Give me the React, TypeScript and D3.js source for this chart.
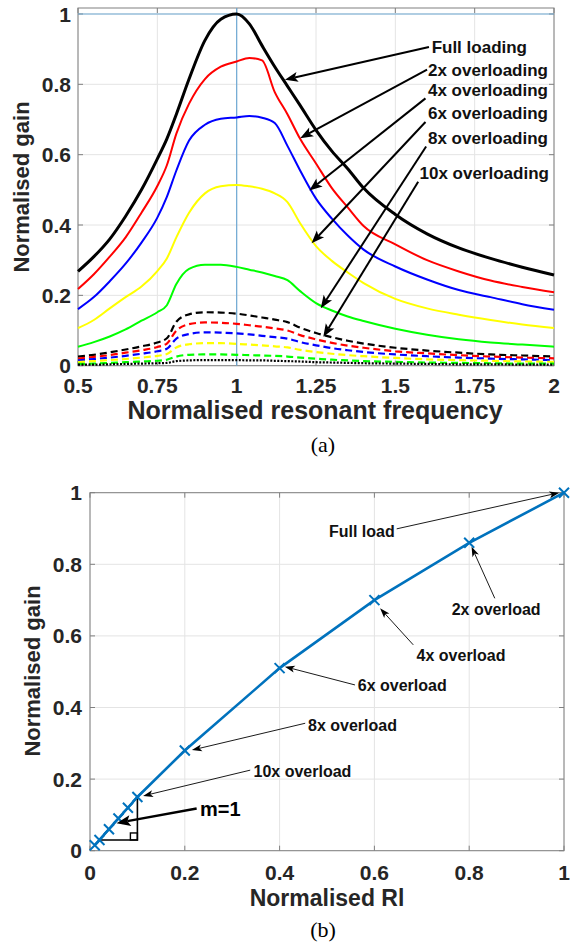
import React, { useEffect, useRef } from "react";
import * as d3 from "d3";

// ---- chart (a): gain vs normalised resonant frequency ----
const freq = [0.5, 0.55, 0.6, 0.65, 0.7, 0.75, 0.78, 0.81, 0.85, 0.9, 0.95, 1.0, 1.04, 1.08, 1.12, 1.16, 1.2, 1.25, 1.3, 1.35, 1.4, 1.5, 1.6, 1.7, 1.8, 1.9, 2.0];

const fullLoading = [0.268, 0.31, 0.36, 0.425, 0.5, 0.588, 0.645, 0.715, 0.815, 0.925, 0.985, 1.0, 0.972, 0.91, 0.85, 0.795, 0.74, 0.67, 0.61, 0.56, 0.505, 0.43, 0.375, 0.335, 0.305, 0.28, 0.258];
const over2 = [0.218, 0.26, 0.31, 0.365, 0.435, 0.511, 0.57, 0.66, 0.745, 0.815, 0.85, 0.865, 0.875, 0.868, 0.778, 0.715, 0.645, 0.575, 0.505, 0.45, 0.397, 0.345, 0.3, 0.268, 0.242, 0.224, 0.209];
const over4 = [0.161, 0.195, 0.24, 0.29, 0.35, 0.421, 0.48, 0.555, 0.64, 0.685, 0.702, 0.706, 0.71, 0.705, 0.69, 0.625, 0.555, 0.475, 0.418, 0.37, 0.33, 0.282, 0.245, 0.215, 0.195, 0.175, 0.159];
const over6 = [0.107, 0.13, 0.163, 0.195, 0.225, 0.269, 0.305, 0.365, 0.435, 0.49, 0.51, 0.514, 0.51, 0.503, 0.49, 0.465, 0.405, 0.34, 0.298, 0.265, 0.235, 0.19, 0.163, 0.145, 0.13, 0.117, 0.107];
const over8 = [0.054, 0.067, 0.083, 0.103, 0.128, 0.152, 0.172, 0.232, 0.275, 0.287, 0.287, 0.281, 0.273, 0.265, 0.255, 0.243, 0.212, 0.178, 0.157, 0.14, 0.127, 0.105, 0.088, 0.075, 0.066, 0.06, 0.054];
const over10 = [0.026, 0.031, 0.038, 0.046, 0.055, 0.066, 0.078, 0.125, 0.146, 0.152, 0.151, 0.148, 0.143, 0.137, 0.131, 0.124, 0.108, 0.093, 0.081, 0.071, 0.063, 0.051, 0.043, 0.037, 0.032, 0.029, 0.026];
const over12 = [0.02, 0.025, 0.03, 0.037, 0.044, 0.053, 0.063, 0.1, 0.118, 0.123, 0.122, 0.119, 0.115, 0.111, 0.106, 0.1, 0.087, 0.075, 0.065, 0.057, 0.051, 0.041, 0.035, 0.03, 0.026, 0.023, 0.021];
const over14 = [0.015, 0.019, 0.023, 0.028, 0.034, 0.041, 0.048, 0.077, 0.09, 0.095, 0.094, 0.092, 0.089, 0.085, 0.081, 0.077, 0.067, 0.058, 0.05, 0.044, 0.039, 0.032, 0.027, 0.023, 0.02, 0.018, 0.016];
const over16 = [0.01, 0.013, 0.016, 0.019, 0.023, 0.028, 0.033, 0.052, 0.061, 0.064, 0.064, 0.062, 0.06, 0.058, 0.055, 0.052, 0.045, 0.039, 0.034, 0.03, 0.027, 0.022, 0.018, 0.016, 0.014, 0.012, 0.011];
const over18 = [0.005, 0.006, 0.008, 0.01, 0.012, 0.014, 0.017, 0.026, 0.031, 0.032, 0.032, 0.031, 0.03, 0.029, 0.028, 0.026, 0.023, 0.02, 0.017, 0.015, 0.013, 0.011, 0.009, 0.008, 0.007, 0.006, 0.006];
const over20 = [0.003, 0.003, 0.004, 0.005, 0.006, 0.007, 0.008, 0.013, 0.015, 0.016, 0.016, 0.016, 0.015, 0.015, 0.014, 0.013, 0.012, 0.01, 0.009, 0.008, 0.007, 0.006, 0.005, 0.004, 0.004, 0.003, 0.003];

const freqTicks = [0.5, 0.75, 1, 1.25, 1.5, 1.75, 2];
const gainTicks = [0, 0.2, 0.4, 0.6, 0.8, 1];

// label, text anchor (end x, baseline y), arrow start, arrow tip -- data coords
const loadLabels = ["Full loading", "2x overloading", "4x overloading", "6x overloading", "8x overloading", "10x overloading"];
const loadTextPos = [[1.915, 0.89], [1.981, 0.824], [1.981, 0.767], [1.981, 0.701], [1.981, 0.63], [1.984, 0.53]];
const loadArrowFrom = [[1.606, 0.906], [1.6, 0.842], [1.595, 0.76], [1.595, 0.693], [1.597, 0.623], [1.572, 0.523]];
const loadArrowTo = [[1.152, 0.813], [1.2, 0.647], [1.229, 0.498], [1.236, 0.348], [1.265, 0.163], [1.273, 0.082]];

// ---- chart (b): gain vs normalised Rl ----
const rl = [0.01, 0.02, 0.04, 0.06, 0.08, 0.1, 0.2, 0.4, 0.6, 0.8, 1];
const rlGain = [0.015, 0.03, 0.06, 0.09, 0.12, 0.15, 0.28, 0.51, 0.7, 0.86, 1.0];
const rlTicks = [0, 0.2, 0.4, 0.6, 0.8, 1];

const overLabels = ["Full load", "2x overload", "4x overload", "6x overload", "8x overload", "10x overload"];
const overTextPos = [[0.504, 0.876], [0.763, 0.658], [0.689, 0.53], [0.565, 0.446], [0.46, 0.334], [0.345, 0.207]];
const overArrowFrom = [[0.647, 0.899], [0.854, 0.705], [0.682, 0.575], [0.559, 0.463], [0.454, 0.356], [0.338, 0.225]];
const overArrowTo = [[0.99, 1.0], [0.805, 0.849], [0.612, 0.677], [0.411, 0.514], [0.215, 0.281], [0.112, 0.153]];

const slopeTri = [[0.02, 0.03], [0.1, 0.03], [0.1, 0.15]];

const FONT = "'Liberation Sans', Arial, Helvetica, sans-serif";
const TXT = "#262626";

const arrow = (g, sx, sy, tx, ty, w, len, half, notch) => {
  const dx = tx - sx;
  const dy = ty - sy;
  const L = Math.hypot(dx, dy);
  const ux = dx / L;
  const uy = dy / L;
  const nx = -uy;
  const ny = ux;
  const bx = tx - (len - notch) * ux;
  const by = ty - (len - notch) * uy;
  g.append("line")
    .attr("x1", sx).attr("y1", sy).attr("x2", bx).attr("y2", by)
    .attr("stroke", "#000").attr("stroke-width", w);
  g.append("path")
    .attr("d", `M${tx},${ty}L${tx - len * ux + half * nx},${ty - len * uy + half * ny}L${bx},${by}L${tx - len * ux - half * nx},${ty - len * uy - half * ny}Z`)
    .attr("fill", "#000");
};

const axesBox = (g, x, y, xTicks, yTicks, xLabelY, yLabelX) => {
  const [xa, xb] = x.range();
  const [ya, yb] = y.range();
  g.append("g").selectAll("line").data(xTicks).join("line")
    .attr("x1", (d) => x(d)).attr("x2", (d) => x(d)).attr("y1", ya).attr("y2", yb)
    .attr("stroke", "#e4e4e4").attr("stroke-width", 1);
  g.append("g").selectAll("line").data(yTicks).join("line")
    .attr("x1", xa).attr("x2", xb).attr("y1", (d) => y(d)).attr("y2", (d) => y(d))
    .attr("stroke", "#e4e4e4").attr("stroke-width", 1);
  const tk = g.append("g").attr("stroke", "#808080").attr("stroke-width", 1);
  xTicks.forEach((d) => {
    tk.append("line").attr("x1", x(d)).attr("x2", x(d)).attr("y1", ya).attr("y2", ya - 5);
    tk.append("line").attr("x1", x(d)).attr("x2", x(d)).attr("y1", yb).attr("y2", yb + 5);
  });
  yTicks.forEach((d) => {
    tk.append("line").attr("x1", xa).attr("x2", xa + 5).attr("y1", y(d)).attr("y2", y(d));
    tk.append("line").attr("x1", xb).attr("x2", xb - 5).attr("y1", y(d)).attr("y2", y(d));
  });
  g.append("rect")
    .attr("x", xa).attr("y", yb).attr("width", xb - xa).attr("height", ya - yb)
    .attr("fill", "none").attr("stroke", "#808080").attr("stroke-width", 1);
  g.append("g").selectAll("text").data(xTicks).join("text")
    .attr("x", (d) => x(d)).attr("y", xLabelY)
    .attr("text-anchor", "middle")
    .attr("font-family", FONT).attr("font-weight", "bold").attr("font-size", 21).attr("fill", TXT)
    .text((d) => String(d));
  g.append("g").selectAll("text").data(yTicks).join("text")
    .attr("x", yLabelX).attr("y", (d) => y(d)).attr("dy", "0.36em")
    .attr("text-anchor", "end")
    .attr("font-family", FONT).attr("font-weight", "bold").attr("font-size", 21).attr("fill", TXT)
    .text((d) => String(d));
};

const App = () => {
  const ref = useRef(null);

  useEffect(() => {
    const svg = d3.select(ref.current);
    svg.selectAll("*").remove();

    // ===== (a) =====
    const xa = d3.scaleLinear().domain([0.5, 2]).range([78, 554]);
    const ya = d3.scaleLinear().domain([0, 1.017]).range([365.7, 8]);
    const ga = svg.append("g");
    axesBox(ga, xa, ya, freqTicks, gainTicks, 393, 71);

    // reference lines at 1
    ga.append("line").attr("x1", xa(1)).attr("x2", xa(1)).attr("y1", ya(0)).attr("y2", ya(1.017))
      .attr("stroke", "#6fa9d4").attr("stroke-width", 1.2);
    ga.append("line").attr("x1", xa(0.5)).attr("x2", xa(2)).attr("y1", ya(1)).attr("y2", ya(1))
      .attr("stroke", "#6fa9d4").attr("stroke-width", 1.2);

    const series = [
      { v: fullLoading, c: "#000000", w: 3, dash: null },
      { v: over2, c: "#ff0000", w: 2, dash: null },
      { v: over4, c: "#0000ff", w: 2, dash: null },
      { v: over6, c: "#ffff00", w: 2, dash: null },
      { v: over8, c: "#00ff00", w: 2, dash: null },
      { v: over10, c: "#000000", w: 2.2, dash: "7,4" },
      { v: over12, c: "#ff0000", w: 2.2, dash: "7,4" },
      { v: over14, c: "#0000ff", w: 2.2, dash: "7,4" },
      { v: over16, c: "#ffff00", w: 2.2, dash: "7,4" },
      { v: over18, c: "#00ff00", w: 2.2, dash: "7,4" },
      { v: over20, c: "#000000", w: 2.2, dash: "2,1.5" },
    ];
    const line = d3.line().x((d) => xa(d[0])).y((d) => ya(d[1])).curve(d3.curveMonotoneX);
    series.forEach((s) => {
      ga.append("path")
        .datum(freq.map((f, i) => [f, s.v[i]]))
        .attr("fill", "none")
        .attr("stroke", s.c)
        .attr("stroke-width", s.w)
        .attr("stroke-dasharray", s.dash)
        .attr("stroke-linejoin", "round")
        .attr("d", line);
    });

    loadLabels.forEach((t, i) => {
      arrow(ga, xa(loadArrowFrom[i][0]), ya(loadArrowFrom[i][1]), xa(loadArrowTo[i][0]), ya(loadArrowTo[i][1]), 2, 13, 5, 3);
      ga.append("text")
        .attr("x", xa(loadTextPos[i][0])).attr("y", ya(loadTextPos[i][1]))
        .attr("text-anchor", "end")
        .attr("font-family", FONT).attr("font-weight", "bold").attr("font-size", 17).attr("fill", "#111")
        .text(t);
    });

    ga.append("text")
      .attr("x", 315).attr("y", 419).attr("text-anchor", "middle")
      .attr("font-family", FONT).attr("font-weight", "bold").attr("font-size", 25).attr("fill", TXT)
      .text("Normalised resonant frequency");
    ga.append("text")
      .attr("transform", "translate(29,187) rotate(-90)").attr("text-anchor", "middle")
      .attr("font-family", FONT).attr("font-weight", "bold").attr("font-size", 22).attr("fill", TXT)
      .text("Normalised gain");
    ga.append("text")
      .attr("x", 323).attr("y", 452).attr("text-anchor", "middle")
      .attr("font-family", "'Liberation Serif', 'Times New Roman', serif").attr("font-size", 22).attr("fill", "#000")
      .text("(a)");

    // ===== (b) =====
    const xb = d3.scaleLinear().domain([0, 1]).range([90, 564]);
    const yb = d3.scaleLinear().domain([0, 1]).range([850.7, 492.7]);
    const gb = svg.append("g");
    axesBox(gb, xb, yb, rlTicks, rlTicks, 880, 82);

    gb.append("path")
      .attr("d", d3.line().x((d) => xb(d[0])).y((d) => yb(d[1]))(slopeTri) + "Z")
      .attr("fill", "none").attr("stroke", "#000").attr("stroke-width", 1.6);
    const corner = slopeTri[1];
    gb.append("rect")
      .attr("x", xb(corner[0]) - 7).attr("y", yb(corner[1]) - 7).attr("width", 7).attr("height", 7)
      .attr("fill", "none").attr("stroke", "#000").attr("stroke-width", 1.4);

    const pts = rl.map((r, i) => [r, rlGain[i]]);
    gb.append("path")
      .datum(pts)
      .attr("fill", "none").attr("stroke", "#0072bd").attr("stroke-width", 2.6)
      .attr("d", d3.line().x((d) => xb(d[0])).y((d) => yb(d[1])));
    gb.append("g").selectAll("path").data(pts).join("path")
      .attr("d", (d) => {
        const cx = xb(d[0]);
        const cy = yb(d[1]);
        const h = 5;
        return `M${cx - h},${cy - h}L${cx + h},${cy + h}M${cx - h},${cy + h}L${cx + h},${cy - h}`;
      })
      .attr("stroke", "#0072bd").attr("stroke-width", 2);

    overLabels.forEach((t, i) => {
      arrow(gb, xb(overArrowFrom[i][0]), yb(overArrowFrom[i][1]), xb(overArrowTo[i][0]), yb(overArrowTo[i][1]), 0.9, 10, 3.5, 2.5);
      gb.append("text")
        .attr("x", xb(overTextPos[i][0])).attr("y", yb(overTextPos[i][1]))
        .attr("font-family", FONT).attr("font-weight", "bold").attr("font-size", 16).attr("fill", "#111")
        .text(t);
    });
    arrow(gb, xb(0.225), yb(0.118), xb(0.056), yb(0.077), 2.4, 14, 5.5, 3);
    gb.append("text")
      .attr("x", xb(0.232)).attr("y", yb(0.097))
      .attr("font-family", FONT).attr("font-weight", "bold").attr("font-size", 20).attr("fill", "#000")
      .text("m=1");

    gb.append("text")
      .attr("x", 327).attr("y", 906).attr("text-anchor", "middle")
      .attr("font-family", FONT).attr("font-weight", "bold").attr("font-size", 23).attr("fill", TXT)
      .text("Normalised Rl");
    gb.append("text")
      .attr("transform", "translate(40,671) rotate(-90)").attr("text-anchor", "middle")
      .attr("font-family", FONT).attr("font-weight", "bold").attr("font-size", 22).attr("fill", TXT)
      .text("Normalised gain");
    gb.append("text")
      .attr("x", 323).attr("y", 937).attr("text-anchor", "middle")
      .attr("font-family", "'Liberation Serif', 'Times New Roman', serif").attr("font-size", 22).attr("fill", "#000")
      .text("(b)");
  }, []);

  return (
    <svg
      ref={ref}
      width={574}
      height={942}
      style={{ position: "absolute", left: 0, top: 0, background: "#fff" }}
    />
  );
};

export default App;
